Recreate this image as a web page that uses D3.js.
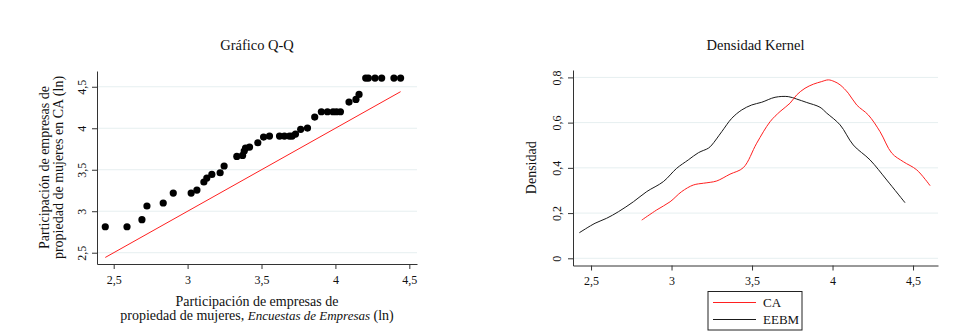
<!DOCTYPE html>
<html><head><meta charset="utf-8">
<script src="https://cdn.jsdelivr.net/npm/d3@7"></script>
<style>
body{margin:0;background:#fff;}
svg text{font-family:"Liberation Serif","DejaVu Serif",serif;fill:#111;}
</style></head>
<body><svg id="c" width="955" height="333"></svg>
<script>
// Q-Q data (sorted quantiles)
const qqX = [2.443,2.59,2.691,2.725,2.835,2.903,3.024,3.063,3.11,3.13,3.164,3.22,3.247,3.333,3.372,3.383,3.392,3.419,3.475,3.514,3.554,3.622,3.655,3.689,3.707,3.73,3.765,3.811,3.86,3.905,3.946,3.984,4.007,4.034,4.092,4.139,4.16,4.205,4.223,4.268,4.313,4.396,4.441];
const qqY = [2.813,2.813,2.898,3.063,3.099,3.219,3.219,3.255,3.352,3.40,3.444,3.464,3.545,3.661,3.673,3.725,3.761,3.773,3.825,3.894,3.906,3.906,3.906,3.906,3.906,3.93,3.987,4.002,4.135,4.199,4.199,4.199,4.199,4.199,4.316,4.348,4.408,4.605,4.605,4.605,4.605,4.605,4.605];
const qqXTicks = [2.5,3,3.5,4,4.5];
const qqYTicks = [2.5,3,3.5,4,4.5];

// Kernel density
const caX = [2.815,2.908,2.991,3.063,3.135,3.198,3.240,3.281,3.363,3.446,3.529,3.612,3.674,3.736,3.778,3.829,3.881,3.930,3.974,4.010,4.047,4.098,4.150,4.222,4.295,4.368,4.440,4.523,4.606];
const caY = [0.169,0.214,0.250,0.295,0.324,0.332,0.336,0.342,0.372,0.401,0.509,0.604,0.649,0.686,0.723,0.752,0.770,0.781,0.789,0.782,0.767,0.730,0.678,0.634,0.560,0.465,0.427,0.391,0.321];
const eebmX = [2.427,2.525,2.597,2.670,2.763,2.846,2.949,3.032,3.104,3.167,3.229,3.250,3.312,3.374,3.436,3.498,3.560,3.643,3.725,3.778,3.840,3.922,3.964,4.047,4.129,4.233,4.337,4.450];
const eebmY = [0.113,0.155,0.177,0.206,0.250,0.295,0.339,0.398,0.435,0.467,0.487,0.501,0.560,0.619,0.656,0.678,0.690,0.712,0.715,0.704,0.689,0.668,0.642,0.590,0.501,0.435,0.346,0.246];
const kdXTicks = [2.5,3,3.5,4,4.5];
const kdYTicks = [0,0.2,0.4,0.6,0.8];
const seriesNames = ["CA","EEBM"];

const svg = d3.select("#c");
const fmt = d => String(d).replace(".", ",");
const gridColor = "#e6eff0";
const axisColor = "#333";
const serif = '"Liberation Serif","DejaVu Serif",serif';

function styleAxis(g){
  g.attr("font-family", serif);
  g.select(".domain").attr("stroke", axisColor).attr("stroke-width",1);
  g.selectAll(".tick line").attr("stroke", axisColor);
  g.selectAll(".tick text").attr("font-size", 12).attr("fill","#111")
   .style("font-family", serif);
}

// ---------- Left: Q-Q ----------
{
  const L = 97, R = 417, T = 71, B = 264;
  const x = d3.scaleLinear().domain([2.387, 4.552]).range([L, R]);
  const y = d3.scaleLinear().domain([2.364, 4.69]).range([B, T]);
  const g = svg.append("g");
  g.append("g").selectAll("line").data(qqYTicks).join("line")
    .attr("x1", L).attr("x2", R).attr("y1", d=>y(d)).attr("y2", d=>y(d))
    .attr("stroke", gridColor).attr("stroke-width",1);
  // 45 degree reference line
  const ext = d3.extent(qqX);
  g.append("path").datum(ext)
    .attr("d", d3.line().x(d=>x(d)).y(d=>y(d)))
    .attr("stroke", "#ff2020").attr("stroke-width",1).attr("fill","none");
  g.append("g").selectAll("circle").data(qqX.map((v,i)=>[v,qqY[i]])).join("circle")
    .attr("cx", d=>x(d[0])).attr("cy", d=>y(d[1])).attr("r", 3.6).attr("fill","#000");
  const xa = g.append("g").attr("transform",`translate(0,${B})`)
    .call(d3.axisBottom(x).tickValues(qqXTicks).tickFormat(fmt).tickSize(5).tickPadding(6).tickSizeOuter(0));
  styleAxis(xa);
  const ya = g.append("g").attr("transform",`translate(${L},0)`)
    .call(d3.axisLeft(y).tickValues(qqYTicks).tickFormat(fmt).tickSize(5).tickSizeOuter(0));
  styleAxis(ya);
  ya.selectAll(".tick text").attr("transform","rotate(-90)").attr("text-anchor","middle")
    .attr("x",0).attr("y",-11).attr("dy","0");
  g.append("text").attr("x",(L+R)/2).attr("y",50).attr("text-anchor","middle")
    .attr("font-size",14.5).text("Gráfico Q-Q");
  const yt = g.append("text").attr("transform",`translate(49,${(T+B)/2}) rotate(-90)`)
    .attr("text-anchor","middle").attr("font-size",14);
  yt.append("tspan").attr("x",0).attr("y",0).text("Participación de empresas de");
  yt.append("tspan").attr("x",0).attr("y",14).text("propiedad de mujeres en CA (ln)");
  const xt = g.append("text").attr("text-anchor","middle").attr("font-size",14);
  xt.append("tspan").attr("x",(L+R)/2).attr("y",306).text("Participación de empresas de");
  const l2 = g.append("text").attr("text-anchor","middle").attr("font-size",14)
    .attr("x",(L+R)/2).attr("y",320);
  l2.append("tspan").text("propiedad de mujeres, ");
  l2.append("tspan").attr("font-style","italic").attr("font-size",13).text("Encuestas de Empresas");
  l2.append("tspan").text(" (ln)");
}

// ---------- Right: Kernel density ----------
{
  const L = 573, R = 938, T = 70, B = 265.5;
  const x = d3.scaleLinear().domain([2.388, 4.655]).range([L, R]);
  const y = d3.scaleLinear().domain([-0.0318, 0.8327]).range([B, T]);
  const g = svg.append("g");
  g.append("g").selectAll("line").data(kdYTicks).join("line")
    .attr("x1", L).attr("x2", R).attr("y1", d=>y(d)).attr("y2", d=>y(d))
    .attr("stroke", gridColor).attr("stroke-width",1);
  const line = d3.line().x(d=>x(d[0])).y(d=>y(d[1])).curve(d3.curveCatmullRom);
  g.append("path").datum(eebmX.map((v,i)=>[v,eebmY[i]]))
    .attr("d", line).attr("stroke","#1a1a1a").attr("stroke-width",1).attr("fill","none");
  g.append("path").datum(caX.map((v,i)=>[v,caY[i]]))
    .attr("d", line).attr("stroke","#ff2020").attr("stroke-width",1).attr("fill","none");
  const xa = g.append("g").attr("transform",`translate(0,${B})`)
    .call(d3.axisBottom(x).tickValues(kdXTicks).tickFormat(fmt).tickSize(5).tickPadding(6).tickSizeOuter(0));
  styleAxis(xa);
  const ya = g.append("g").attr("transform",`translate(${L},0)`)
    .call(d3.axisLeft(y).tickValues(kdYTicks).tickFormat(fmt).tickSize(5).tickSizeOuter(0));
  styleAxis(ya);
  ya.selectAll(".tick text").attr("transform","rotate(-90)").attr("text-anchor","middle")
    .attr("x",0).attr("y",-12.5).attr("dy","0");
  g.append("text").attr("x",(L+R)/2).attr("y",50).attr("text-anchor","middle")
    .attr("font-size",14.5).text("Densidad Kernel");
  g.append("text").attr("transform",`translate(536,${(T+B)/2}) rotate(-90)`)
    .attr("text-anchor","middle").attr("font-size",14).text("Densidad");
  // legend
  const lg = g.append("g");
  lg.append("rect").attr("x",708).attr("y",291.5).attr("width",94).attr("height",38.5)
    .attr("fill","#fff").attr("stroke","#222").attr("stroke-width",1);
  const colors = ["#ff2020","#1a1a1a"];
  seriesNames.forEach((n,i)=>{
    const yy = 302.5 + i*17;
    lg.append("line").attr("x1",713).attr("x2",756).attr("y1",yy).attr("y2",yy)
      .attr("stroke",colors[i]).attr("stroke-width",1);
    lg.append("text").attr("x",763).attr("y",yy+4).attr("font-size",13).text(n);
  });
}
</script></body></html>
